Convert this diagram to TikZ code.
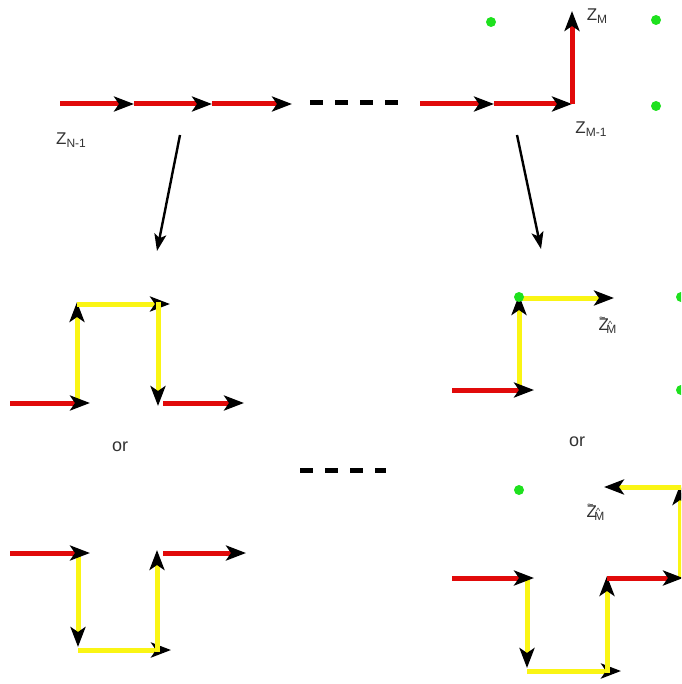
\documentclass[tikz,border=0pt]{standalone}
\usepackage{fontspec}
\setmainfont{Liberation Sans}
\usetikzlibrary{arrows.meta}
\definecolor{rd}{RGB}{225,10,10}
\definecolor{yl}{RGB}{250,245,20}
\definecolor{gr}{RGB}{30,225,30}
\definecolor{tx}{RGB}{50,50,50}
\tikzset{
  tipa/.tip={Stealth[black,length=20pt,width=15pt,inset=5pt]},
  redarr/.style={draw=rd,line width=5pt,-tipa},
  yelarr/.style={draw=yl,line width=5pt,-tipa},
  maparr/.style={draw=black,line width=2.4pt,-{Stealth[length=17pt,width=12pt,inset=4pt]}},
  dot/.style={circle,fill=gr,inner sep=0pt,minimum size=10pt},
  lbl/.style={text=tx,font=\fontsize{17}{17}\selectfont,inner sep=0pt},
  ortxt/.style={text=tx,font=\fontsize{18}{18}\selectfont,inner sep=0pt},
  dsh/.style={draw=black,line width=5pt,dash pattern=on 13pt off 12pt}
}
\newcommand{\sbs}[1]{\raisebox{-0.35ex}{\fontsize{12}{12}\selectfont #1}}
\newcommand{\accon}[3]{\ooalign{#2\cr\hidewidth\raisebox{#3}{#1}\hidewidth\cr}}
\newcommand{\ztil}{Z\kern-0.58em\raisebox{0.52em}{\fontsize{11}{11}\selectfont\textasciitilde}\kern0.05em\raisebox{-0.35ex}{\fontsize{12}{12}\selectfont M\kern-0.68em\raisebox{0.5em}{\fontsize{9}{9}\selectfont\textasciicircum}\kern0.25em}}
\begin{document}
\begin{tikzpicture}[x=1pt,y=-1pt]
\useasboundingbox (0,0) rectangle (681,684);
\clip (0,0) rectangle (681,684);
% ---------- top row ----------
\coordinate (t0) at (60,104);
\coordinate (t1) at (134,104);
\coordinate (t2) at (212,104);
\coordinate (t3) at (292,104);
\coordinate (d0) at (310,103);
\coordinate (d1) at (398,103);
\coordinate (t4) at (420,104);
\coordinate (t5) at (494,104);
\coordinate (t6) at (572,104);
\coordinate (t7) at (572,11);
\draw[redarr] (t0) -- (t1);
\draw[redarr] (t1) -- (t2);
\draw[redarr] (t2) -- (t3);
\draw[dsh] (d0) -- (d1);
\draw[redarr] (t4) -- (t5);
\draw[redarr] (t5) -- (t6);
\draw[redarr] (t6) -- (t7);
\node[dot] (g1) at (491,22) {};
\node[dot] (g2) at (656,20) {};
\node[dot] (g3) at (656,106) {};
\node[lbl] (zn) at (71,140) {Z\sbs{N-1}};
\node[lbl] (zm) at (597,16) {Z\sbs{M}};
\node[lbl] (zm1) at (591,129) {Z\sbs{M-1}};
% ---------- mapping arrows ----------
\coordinate (a0) at (180,135);
\coordinate (a1) at (157,251);
\coordinate (b0) at (517,135);
\coordinate (b1) at (541,249);
\draw[maparr] (a0) -- (a1);
\draw[maparr] (b0) -- (b1);
% ---------- bottom left, upper ----------
\coordinate (p0) at (10,403);
\coordinate (p1) at (90,403);
\coordinate (p2) at (77,403);
\coordinate (p3) at (77,302);
\coordinate (p4) at (77,304);
\coordinate (p5) at (170,304);
\coordinate (p6) at (158,302);
\coordinate (p7) at (158,406);
\coordinate (p8) at (163,403);
\coordinate (p9) at (244,403);
\draw[yelarr] (p2) -- (p3);
\draw[yelarr] (p4) -- (p5);
\draw[yelarr] (p6) -- (p7);
\draw[redarr] (p0) -- (p1);
\draw[redarr] (p8) -- (p9);
\node[ortxt] (or1) at (120,447) {or};
% middle dashes
\coordinate (m0) at (300,470);
\coordinate (m1) at (386,470);
\draw[dsh] (m0) -- (m1);
% ---------- bottom left, lower ----------
\coordinate (q0) at (10,553);
\coordinate (q1) at (90,553);
\coordinate (q2) at (78,553);
\coordinate (q3) at (78,647);
\coordinate (q4) at (78,650);
\coordinate (q5) at (171,650);
\coordinate (q6) at (157,652);
\coordinate (q7) at (157,550);
\coordinate (q8) at (163,553);
\coordinate (q9) at (246,553);
\draw[yelarr] (q2) -- (q3);
\draw[yelarr] (q4) -- (q5);
\draw[yelarr] (q6) -- (q7);
\draw[redarr] (q0) -- (q1);
\draw[redarr] (q8) -- (q9);
% ---------- bottom right, upper ----------
\coordinate (r0) at (452,390);
\coordinate (r1) at (534,390);
\coordinate (r2) at (519,390);
\coordinate (r3) at (519,295);
\coordinate (r4) at (519,298);
\coordinate (r5) at (614,298);
\draw[yelarr] (r2) -- (r3);
\draw[yelarr] (r4) -- (r5);
\draw[redarr] (r0) -- (r1);
\node[dot] (g4) at (519,297) {};
\node[dot] (g5) at (681,297) {};
\node[dot] (g6) at (681,390) {};
\node[lbl] (zt1) at (607,325) {\ztil};
\node[ortxt] (or2) at (577,442) {or};
% ---------- bottom right, lower ----------
\node[dot] (g7) at (519,490) {};
\coordinate (s0) at (452,578);
\coordinate (s1) at (534,578);
\coordinate (s2) at (527,578);
\coordinate (s3) at (527,668);
\coordinate (s4) at (527,671);
\coordinate (s5) at (621,671);
\coordinate (s6) at (607,673);
\coordinate (s7) at (607,576);
\coordinate (s8) at (607,578);
\coordinate (s9) at (683,578);
\coordinate (s10) at (680,578);
\coordinate (s11) at (680,485);
\coordinate (s12) at (683,487);
\coordinate (s13) at (604,487);
\draw[yelarr] (s2) -- (s3);
\draw[yelarr] (s4) -- (s5);
\draw[yelarr] (s6) -- (s7);
\draw[yelarr] (s10) -- (s11);
\draw[yelarr] (s12) -- (s13);
\draw[redarr] (s0) -- (s1);
\draw[redarr] (s8) -- (s9);
\node[lbl] (zt2) at (595,512) {\ztil};
\end{tikzpicture}
\end{document}
